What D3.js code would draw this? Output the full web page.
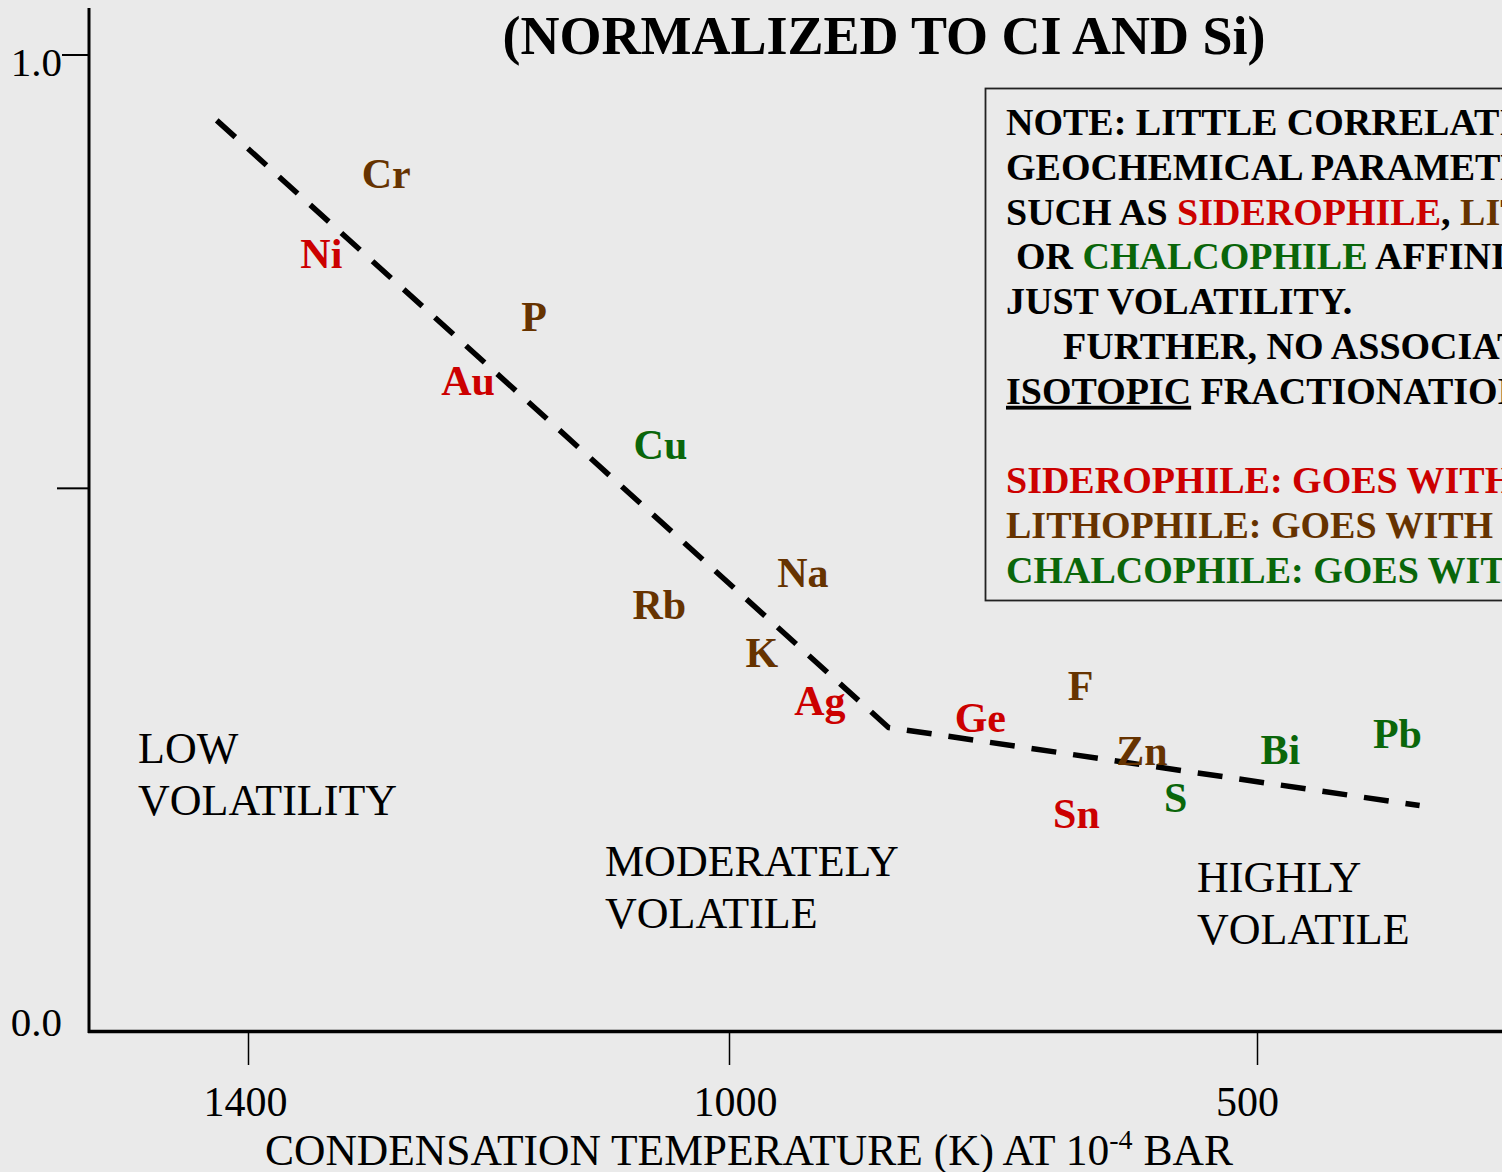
<!DOCTYPE html>
<html>
<head>
<meta charset="utf-8">
<script src="https://cdn.jsdelivr.net/npm/d3@7/dist/d3.min.js"></script>
<style>
  html, body { margin: 0; padding: 0; background: #eaeaea; }
  svg { display: block; }
  text { font-family: "Liberation Serif", "Times New Roman", serif; white-space: pre; }
</style>
</head>
<body>
<svg id="chart" width="1502" height="1172"></svg>
<script>
// ---------- DATA ----------
const elements   = ["Cr", "Ni", "P", "Au", "Cu", "Na", "Rb", "K", "Ag", "Ge", "F", "Zn", "Sn", "S", "Bi", "Pb"];
const condTemp   = [1285, 1339, 1162, 1217, 1057, 930, 1058, 969, 914, 762, 667, 609, 671, 577, 478, 367];
const abundance  = [0.864, 0.782, 0.717, 0.652, 0.586, 0.455, 0.422, 0.373, 0.324, 0.306, 0.339, 0.273, 0.208, 0.224, 0.274, 0.290];
const affinity   = ["litho", "sidero", "litho", "sidero", "chalco", "litho", "litho", "litho", "sidero", "sidero", "litho", "litho", "sidero", "chalco", "chalco", "chalco"];

// dashed trend line (volatility trend)
const trendTemp  = [1426, 849, 346];
const trendValue = [0.933, 0.311, 0.231];

// axis ticks
const xTicks      = [1400, 1000, 500];
const xTickLabels = ["1400", "1000", "500"];
const yTickValues = [0, 0.556, 1];
const yTickLabels = ["0.0", "", "1.0"];

// texts
const titleText   = "(NORMALIZED TO CI AND Si)";
const noteLines = [
  [["NOTE: LITTLE CORRELATION WITH", "plain"]],
  [["GEOCHEMICAL PARAMETERS", "plain"]],
  [["SUCH AS ", "plain"], ["SIDEROPHILE", "sidero"], [", ", "plain"], ["LITHOPHILE", "litho"]],
  [["OR ", "plain"], ["CHALCOPHILE", "chalco"], [" AFFINITY,", "plain"]],
  [["JUST VOLATILITY.", "plain"]],
  [["FURTHER, NO ASSOCIATED", "plain"]],
  [["ISOTOPIC", "under"], [" FRACTIONATION.", "plain"]],
  [],
  [["SIDEROPHILE: GOES WITH Fe", "sidero"]],
  [["LITHOPHILE: GOES WITH Si", "litho"]],
  [["CHALCOPHILE: GOES WITH S", "chalco"]]
];

// ---------- STYLE ----------
const colors = { sidero: "#cc0000", litho: "#663300", chalco: "#0a660a", plain: "#000", under: "#000" };

const svg = d3.select("#chart");
svg.append("rect").attr("width", 1502).attr("height", 1172).attr("fill", "#eaeaea");

// scales (piecewise temperature axis, reversed)
const x = d3.scaleLinear().domain([1400, 1000, 500]).range([248, 729, 1257]);
const y = d3.scaleLinear().domain([0, 1]).range([1031, 55]);

// ---------- AXES ----------
// x axis
const xAxis = d3.axisBottom(x).tickValues(xTicks).tickSize(34).tickPadding(21).tickSizeOuter(0)
  .tickFormat((d, i) => xTickLabels[i]);
const gx = svg.append("g").attr("transform", "translate(0,1031)").call(xAxis);
gx.select(".domain").remove();
gx.selectAll(".tick line").attr("stroke", "#000").attr("stroke-width", 1.5);
gx.selectAll(".tick text").attr("font-size", 42).attr("fill", "#000")
  .attr("font-family", "Liberation Serif, serif")
  .attr("dx", (d, i) => [-3, 6, -10][i]);
svg.append("line").attr("x1", 88).attr("x2", 1502).attr("y1", 1031.5).attr("y2", 1031.5)
  .attr("stroke", "#000").attr("stroke-width", 3.5);

// y axis
svg.append("line").attr("x1", 89).attr("x2", 89).attr("y1", 8).attr("y2", 1033)
  .attr("stroke", "#000").attr("stroke-width", 3);
const yAxis = d3.axisLeft(y).tickValues(yTickValues).tickSize(0).tickPadding(27)
  .tickFormat((d, i) => yTickLabels[i]);
const gy = svg.append("g").attr("transform", "translate(89,0)").call(yAxis);
gy.select(".domain").remove();
gy.selectAll(".tick text").attr("font-size", 41).attr("fill", "#000")
  .attr("font-family", "Liberation Serif, serif")
  .attr("dy", d => d === 1 ? "0.5em" : "0.12em");
// visible tick marks (1.0 and the unlabeled middle one)
const tickLen = d => d === 1 ? 27 : 32;
svg.selectAll(".ytick").data(yTickValues.filter(d => d > 0)).enter().append("line")
  .attr("x1", d => 89 - tickLen(d)).attr("x2", 89)
  .attr("y1", d => y(d)).attr("y2", d => y(d))
  .attr("stroke", "#000").attr("stroke-width", 2);

// x axis title
const xt = svg.append("text").attr("x", 265).attr("y", 1165).attr("font-size", 43.5).attr("fill", "#000");
xt.append("tspan").text("CONDENSATION TEMPERATURE (K) AT 10");
xt.append("tspan").attr("font-size", 28).attr("dy", -16).text("-4");
xt.append("tspan").attr("dy", 16).text(" BAR");

// title
svg.append("text").attr("x", 884).attr("y", 54).attr("text-anchor", "middle")
  .attr("font-size", 54).attr("font-weight", "bold").attr("fill", "#000").text(titleText);

// ---------- TREND LINE ----------
const line = d3.line().x(d => x(d[0])).y(d => y(d[1]));
svg.append("path").datum(trendTemp.map((t, i) => [t, trendValue[i]]))
  .attr("d", line).attr("fill", "none").attr("stroke", "#000")
  .attr("stroke-width", 5.5).attr("stroke-dasharray", "25,17").attr("stroke-linejoin", "round");

// ---------- ELEMENT LABELS ----------
svg.selectAll(".el").data(elements).enter().append("text")
  .attr("class", "el")
  .attr("x", (d, i) => x(condTemp[i]))
  .attr("y", (d, i) => y(abundance[i]))
  .attr("text-anchor", "middle")
  .attr("font-size", 42).attr("font-weight", "bold")
  .attr("fill", (d, i) => colors[affinity[i]])
  .text(d => d);

// ---------- REGION LABELS ----------
const regions = [
  { lines: ["LOW", "VOLATILITY"], px: 138, py: 763 },
  { lines: ["MODERATELY", "VOLATILE"], px: 605, py: 876 },
  { lines: ["HIGHLY", "VOLATILE"], px: 1197, py: 892 }
];
regions.forEach(r => {
  r.lines.forEach((t, j) => {
    svg.append("text").attr("x", r.px).attr("y", r.py + j * 51.5)
      .attr("font-size", 44).attr("fill", "#000").text(t);
  });
});

// ---------- NOTE BOX ----------
svg.append("rect").attr("x", 985.5).attr("y", 88.5).attr("width", 600).attr("height", 512)
  .attr("fill", "none").attr("stroke", "#222").attr("stroke-width", 1.8);
const noteX = 1006, noteY0 = 135, noteDy = 44.8;
const indents = [0, 0, 0, 10, 0, 57, 0, 0, 0, 0, 0];
noteLines.forEach((segs, i) => {
  if (!segs.length) return;
  const t = svg.append("text").attr("x", noteX + indents[i]).attr("y", noteY0 + i * noteDy)
    .attr("font-size", 38).attr("font-weight", "bold");
  segs.forEach(([s, k]) => {
    const sp = t.append("tspan").attr("fill", colors[k]).text(s);
    if (k === "under") sp.attr("text-decoration", "underline");
  });
});
</script>
</body>
</html>
